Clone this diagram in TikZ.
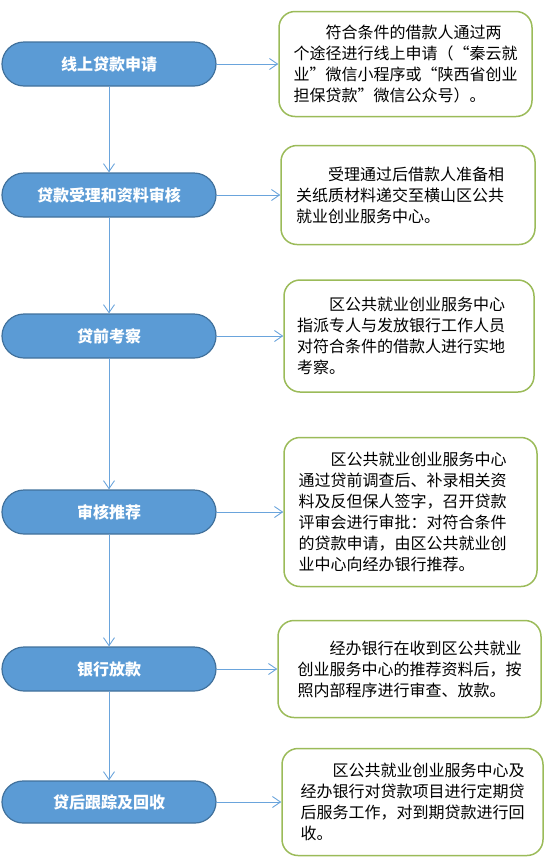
\documentclass[tikz,border=0pt]{standalone}
\usepackage{fontspec}
\setmainfont{Noto Sans CJK SC}
\usetikzlibrary{arrows.meta}
\definecolor{stepfill}{RGB}{91,155,213}
\definecolor{stepline}{RGB}{65,113,156}
\definecolor{noteline}{RGB}{155,187,89}
\definecolor{linkline}{RGB}{106,164,220}
\tikzset{
  stepbox/.style={draw=stepline,fill=stepfill,line width=1.2pt,rounded corners=22pt,minimum width=214pt,minimum height=44pt,text=white,font=\fontsize{16}{20}\selectfont\bfseries},
  notebox/.style={draw=noteline,line width=1.5pt,rounded corners=16pt,text width=224pt,inner xsep=0pt,align=left,font=\fontsize{16}{21}\selectfont},
  link/.style={draw=linkline,line width=0.9pt,-{Straight Barb[length=8pt,width=11pt]}}
}
\begin{document}
\begin{tikzpicture}[x=1pt,y=-1pt,line join=round,line cap=round]
\useasboundingbox (0,0) rectangle (555,857);
% steps on the left
\node[stepbox] (s1) at (109,64) {线上贷款申请};
\node[stepbox] (s2) at (109,195) {贷款受理和资料审核};
\node[stepbox] (s3) at (109,336) {贷前考察};
\node[stepbox] (s4) at (109,512) {审核推荐};
\node[stepbox] (s5) at (109,669) {银行放款};
\node[stepbox,minimum height=42pt,rounded corners=21pt] (s6) at (109,802) {贷后跟踪及回收};
% notes on the right
\node[notebox,minimum width=253pt,minimum height=105pt] (n1) at (405.5,64) {\hspace*{2em}符合条件的借款人通过两\\个途径进行线上申请（“秦云就\\业”微信小程序或“陕西省创业\\担保贷款”微信公众号）。};
\node[notebox,minimum width=254pt,minimum height=99pt] (n2) at (408,195) {\hspace*{2em}受理通过后借款人准备相\\关纸质材料递交至横山区公共\\就业创业服务中心。};
\node[notebox,minimum width=250pt,minimum height=112pt] (n3) at (409,336) {\hspace*{2em}区公共就业创业服务中心\\指派专人与发放银行工作人员\\对符合条件的借款人进行实地\\考察。};
\node[notebox,minimum width=253pt,minimum height=149pt] (n4) at (410.5,512) {\hspace*{2em}区公共就业创业服务中心\\通过贷前调查后、补录相关资\\料及反但保人签字，召开贷款\\评审会进行审批：对符合条件\\的贷款申请，由区公共就业创\\业中心向经办银行推荐。};
\node[notebox,minimum width=263pt,minimum height=97pt] (n5) at (409.5,669) {\hspace*{2em}经办银行在收到区公共就业\\创业服务中心的推荐资料后，按\\照内部程序进行审查、放款。};
\node[notebox,minimum width=261pt,minimum height=107pt] (n6) at (412.5,802) {\hspace*{2em}区公共就业创业服务中心及\\经办银行对贷款项目进行定期贷\\后服务工作，对到期贷款进行回\\收。};
% connectors
\foreach \i[count=\j from 2] in {1,...,5} \draw[link] (s\i)--(s\j);
\foreach \i in {1,...,6} \draw[link] (s\i)--(n\i);
\end{tikzpicture}
\end{document}
